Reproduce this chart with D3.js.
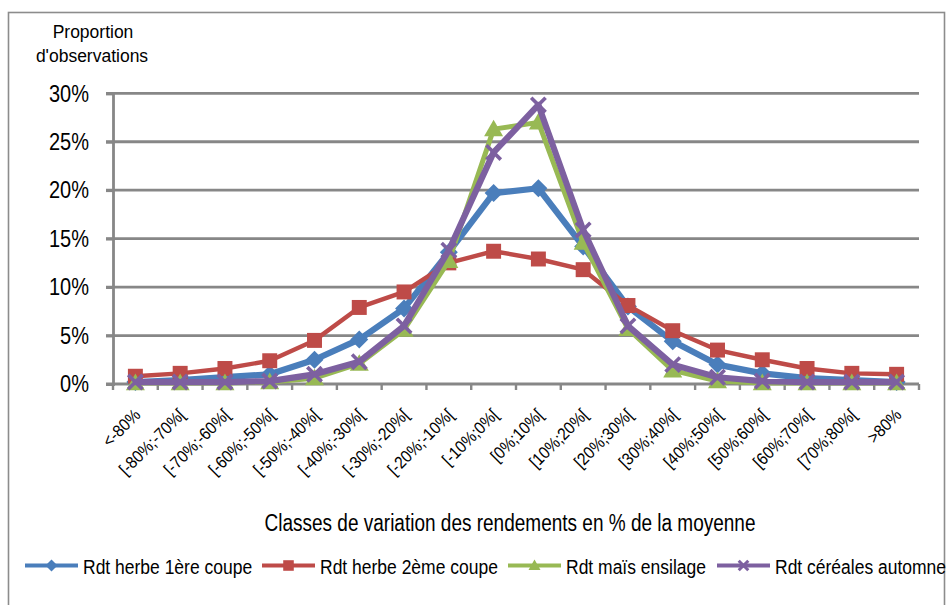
<!DOCTYPE html>
<html>
<head>
<meta charset="utf-8">
<script src="https://cdn.jsdelivr.net/npm/d3@7/dist/d3.min.js"></script>
<style>
  html, body { margin: 0; padding: 0; background: #fff; }
  svg { display: block; font-family: "Liberation Sans", Arial, sans-serif; }
</style>
</head>
<body>
<svg id="chart" width="947" height="605"></svg>
<script>
// Yield variation classes (% deviation from the mean)
const categories = ["<-80%", "[-80%;-70%[", "[-70%;-60%[", "[-60%;-50%[", "[-50%;-40%[",
  "[-40%;-30%[", "[-30%;-20%[", "[-20%;-10%[", "[-10%;0%[", "[0%;10%[", "[10%;20%[",
  "[20%;30%[", "[30%;40%[", "[40%;50%[", "[50%;60%[", "[60%;70%[", "[70%;80%[", ">80%"];

// Share of observations per class, in %
const herbe1 = [0.2, 0.4, 0.7, 1.0, 2.5, 4.6, 7.8, 13.6, 19.7, 20.2, 14.2, 8.0, 4.4, 2.0, 1.1, 0.6, 0.4, 0.2];
const herbe2 = [0.8, 1.1, 1.6, 2.4, 4.5, 7.9, 9.5, 12.5, 13.7, 12.9, 11.8, 8.1, 5.5, 3.5, 2.5, 1.6, 1.1, 1.0];
const mais   = [0.1, 0.1, 0.1, 0.2, 0.6, 2.1, 5.6, 12.7, 26.3, 27.0, 14.6, 5.7, 1.4, 0.3, 0.1, 0.1, 0.1, 0.1];
const cereales = [0.2, 0.2, 0.2, 0.3, 1.0, 2.3, 6.0, 13.8, 23.9, 28.8, 15.9, 6.0, 2.0, 0.7, 0.3, 0.2, 0.2, 0.2];

const yTicks = [0, 5, 10, 15, 20, 25, 30];

const seriesNames = ["Rdt herbe 1ère coupe", "Rdt herbe 2ème coupe", "Rdt maïs ensilage", "Rdt céréales automne"];
const seriesValues = [herbe1, herbe2, mais, cereales];
const seriesColors = ["#4a7ebb", "#be4b48", "#98b954", "#7d60a0"];
const seriesMarkers = ["diamond", "square", "triangle", "cross"];

const svg = d3.select("#chart");
const margin = { left: 113, right: 919, top: 93.3, bottom: 384 };

const x = d3.scaleBand().domain(categories).range([margin.left, margin.right]);
const y = d3.scaleLinear().domain([0, 30]).range([margin.bottom, margin.top]);
const cx = d => x(d) + x.bandwidth() / 2;
const grid = "#878787";

// Text drawn with a slightly tall, condensed look
function addText(parent, px, py, str, size, k, anchor) {
  return parent.append("g").attr("transform", `translate(${px},${py}) scale(1,${k})`)
    .append("text").attr("text-anchor", anchor || "start").attr("font-size", size)
    .attr("fill", "#000").text(str);
}

// Outer frame
svg.append("rect").attr("x", 8.5).attr("y", 12.5).attr("width", 936).attr("height", 600)
  .attr("fill", "none").attr("stroke", "#8c8c8c").attr("stroke-width", 1.6);

// Horizontal gridlines with their outward ticks
svg.append("g").selectAll("line").data(yTicks.filter(d => d > 0)).join("line")
  .attr("x1", margin.left - 7).attr("x2", margin.right)
  .attr("y1", d => y(d)).attr("y2", d => y(d))
  .attr("stroke", grid).attr("stroke-width", 2.8);

// Y axis
const yAxis = d3.axisLeft(y).tickValues(yTicks).tickFormat("").tickSize(7);
const gy = svg.append("g").attr("transform", `translate(${margin.left},0)`).call(yAxis);
gy.select(".domain").attr("stroke", grid).attr("stroke-width", 2.8);
gy.selectAll(".tick line").attr("stroke", grid).attr("stroke-width", 2.8);
const gyl = svg.append("g");
yTicks.forEach(t => addText(gyl, 89, y(t) + 8.2, t + "%", 20, 1.17, "end"));

// X axis with ticks at class boundaries
const gx = svg.append("g").attr("transform", `translate(0,${margin.bottom})`);
gx.append("line").attr("x1", margin.left - 7).attr("x2", margin.right)
  .attr("stroke", grid).attr("stroke-width", 2.8);
const bounds = d3.range(categories.length + 1).map(i => margin.left + i * x.bandwidth());
gx.selectAll("line.b").data(bounds).join("line").attr("class", "b")
  .attr("x1", d => d).attr("x2", d => d).attr("y1", 0).attr("y2", 6)
  .attr("stroke", grid).attr("stroke-width", 2.4);
gx.selectAll("text").data(categories).join("text")
  .attr("transform", d => `translate(${cx(d) + 6},${32}) rotate(-45) scale(1,1.1)`)
  .attr("text-anchor", "end").attr("font-size", 15.5).attr("fill", "#000")
  .text(d => d);

// Titles
addText(svg, 93, 38.3, "Proportion", 17.5, 1.08, "middle");
addText(svg, 92, 62, "d'observations", 17.5, 1.08, "middle");
addText(svg, 510, 530.7, "Classes de variation des rendements en % de la moyenne", 19, 1.22, "middle");

// Marker shapes
function drawMarker(g, type, color, size) {
  const s = size / 2;
  if (type === "diamond") {
    g.append("path").attr("d", `M0,${-s}L${s},0L0,${s}L${-s},0Z`).attr("fill", color);
  } else if (type === "square") {
    g.append("rect").attr("x", -s * 0.88).attr("y", -s * 0.88).attr("width", s * 1.76).attr("height", s * 1.76).attr("fill", color);
  } else if (type === "triangle") {
    g.append("path").attr("d", `M0,${-s}L${s},${s * 0.75}L${-s},${s * 0.75}Z`).attr("fill", color);
  } else {
    g.append("path").attr("d", `M${-s * 0.8},${-s * 0.8}L${s * 0.8},${s * 0.8}M${s * 0.8},${-s * 0.8}L${-s * 0.8},${s * 0.8}`)
      .attr("stroke", color).attr("stroke-width", size > 12 ? 3.6 : 3);
  }
}

const lineWidths = [6.2, 4.4, 5, 6.2];
const markerSizes = [18, 17, 19, 18];
const line = d3.line().x((d, i) => cx(categories[i])).y(d => y(d));

seriesValues.forEach((vals, si) => {
  const g = svg.append("g");
  g.append("path").datum(vals).attr("d", line).attr("fill", "none")
    .attr("stroke", seriesColors[si]).attr("stroke-width", lineWidths[si]).attr("stroke-linejoin", "round");
  vals.forEach((v, i) => {
    const m = g.append("g").attr("transform", `translate(${cx(categories[i])},${y(v)})`);
    drawMarker(m, seriesMarkers[si], seriesColors[si], markerSizes[si]);
  });
});

// Legend
const legendX = [25, 262, 508, 717];
const legend = svg.append("g").attr("transform", "translate(0,565.5)");
seriesNames.forEach((name, si) => {
  const g = legend.append("g").attr("transform", `translate(${legendX[si]},0)`);
  g.append("line").attr("x1", 0).attr("x2", 53).attr("stroke", seriesColors[si]).attr("stroke-width", 4);
  const m = g.append("g").attr("transform", "translate(26.5,0)");
  drawMarker(m, seriesMarkers[si], seriesColors[si], 12);
  addText(g, 58, 8.8, name, 17.5, 1.14, "start");
});
</script>
</body>
</html>
